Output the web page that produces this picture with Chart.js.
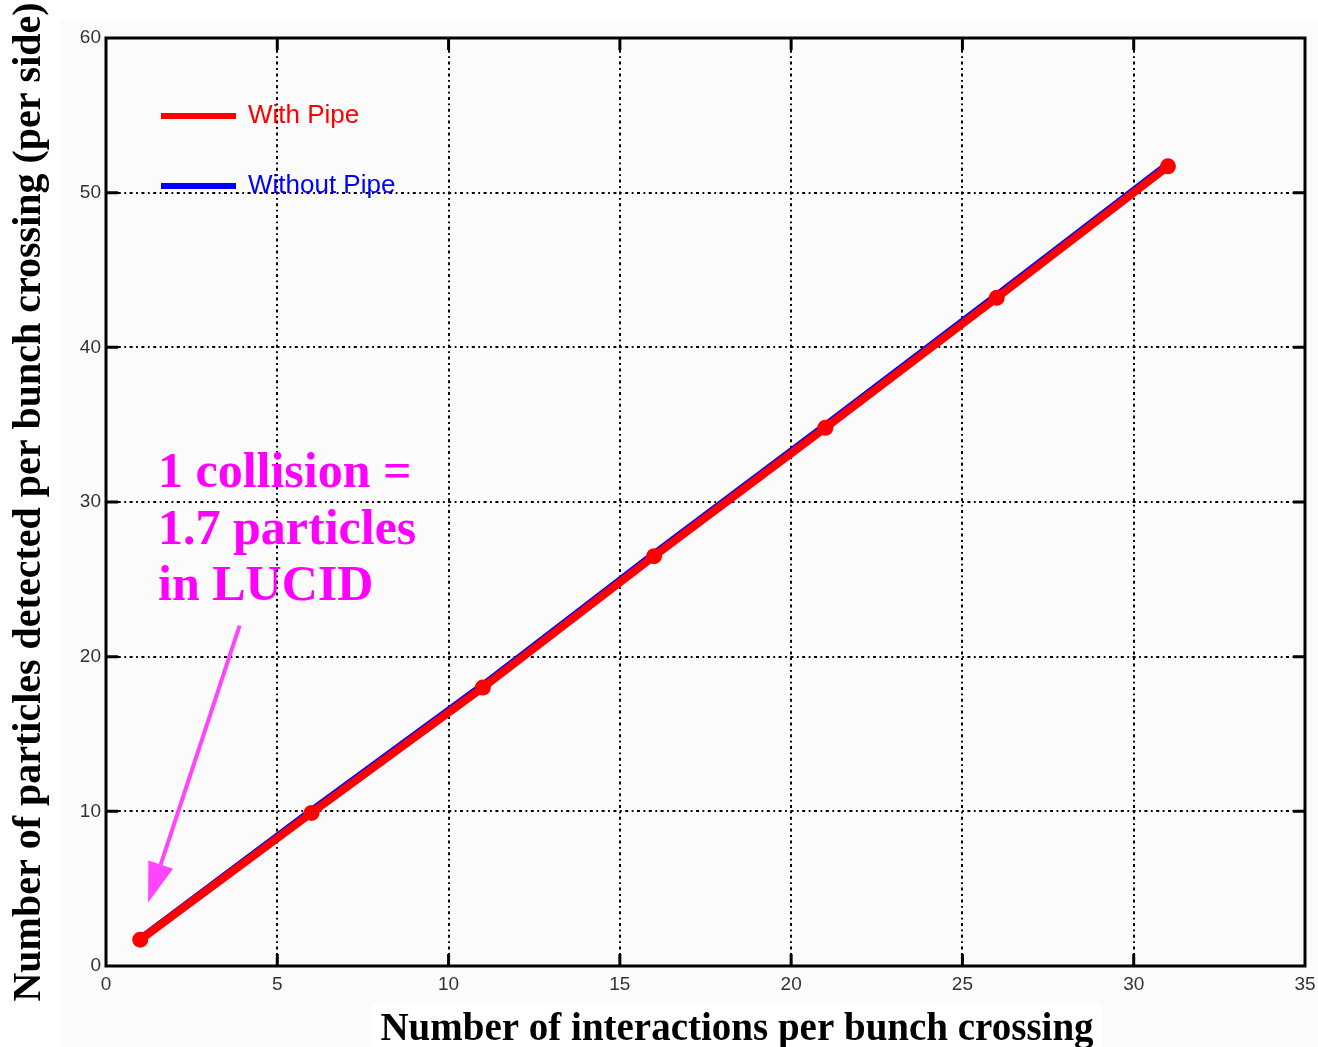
<!DOCTYPE html>
<html><head><meta charset="utf-8">
<script src="https://cdn.jsdelivr.net/npm/chart.js@4.4.0/dist/chart.umd.min.js"></script>
<style>html,body{margin:0;padding:0;background:#fff;}canvas{display:block}</style>
</head><body>
<div style="width:1318px;height:1047px"><canvas id="c" width="1318" height="1047"></canvas></div>
<script>
// ---- data ----
const interactions = [1, 6, 11, 16, 21, 26, 31];
const withPipe = [1.7, 9.9, 18.0, 26.5, 34.8, 43.2, 51.7];
const withoutPipe = [1.8, 10.1, 18.2, 26.7, 35.0, 43.4, 51.9];
const xTicks = [0, 5, 10, 15, 20, 25, 30, 35];
const yTicks = [0, 10, 20, 30, 40, 50, 60];
const seriesLabels = ['With Pipe', 'Without Pipe'];
const seriesColors = ['#ff0000', '#0000ff'];
const xTitle = 'Number of interactions per bunch crossing';
const yTitle = 'Number of particles detected per bunch crossing (per side)';
const noteLines = ['1 collision =', '1.7 particles', 'in LUCID'];
const arrowFrom = {x: 3.9, y: 22.0};
const arrowTo = {x: 1.23, y: 4.1};

const tickFont = {family: "'Liberation Sans', Arial, sans-serif", size: 19};
const gridDash = [3, 3.5, 1.8, 3.5];

const bgPlugin = {
  id: 'bg',
  beforeDraw(chart) {
    const c = chart.ctx;
    c.save();
    c.fillStyle = '#ffffff';
    c.fillRect(0, 0, chart.width, chart.height);
    c.fillStyle = '#fbfbfb';
    c.fillRect(60, 20, chart.width - 60, chart.height - 20);
    c.fillStyle = '#ffffff';
    c.fillRect(372, 1004, 730, 43);
    c.restore();
  }
};

const framePlugin = {
  id: 'frame',
  afterDraw(chart) {
    const c = chart.ctx;
    const a = chart.chartArea;
    const xs = chart.scales.x, ys = chart.scales.y;
    c.save();
    c.strokeStyle = '#000';
    c.lineWidth = 3;
    c.setLineDash([]);
    c.strokeRect(a.left, a.top, a.right - a.left, a.bottom - a.top);
    c.beginPath();
    xTicks.slice(1, -1).forEach(v => {
      const px = xs.getPixelForValue(v);
      c.moveTo(px, a.bottom); c.lineTo(px, a.bottom - 12);
      c.moveTo(px, a.top); c.lineTo(px, a.top + 12);
    });
    yTicks.slice(1, -1).forEach(v => {
      const py = ys.getPixelForValue(v);
      c.moveTo(a.left, py); c.lineTo(a.left + 12, py);
      c.moveTo(a.right, py); c.lineTo(a.right - 12, py);
    });
    c.stroke();

    // legend
    c.font = "26px 'Liberation Sans', Arial, sans-serif";
    c.textBaseline = 'middle';
    c.textAlign = 'left';
    seriesLabels.forEach((lab, i) => {
      const y = a.top + 78 + i * 70;
      c.strokeStyle = seriesColors[i];
      c.lineWidth = 6;
      c.beginPath();
      c.moveTo(a.left + 55, y); c.lineTo(a.left + 130, y);
      c.stroke();
      c.fillStyle = seriesColors[i];
      c.fillText(lab, a.left + 142, y);
    });

    // x title
    c.fillStyle = '#000';
    c.font = "bold 39px 'Liberation Serif', 'Times New Roman', serif";
    c.textAlign = 'center';
    c.textBaseline = 'alphabetic';
    c.fillText(xTitle, 737, 1040);

    // annotation text
    c.fillStyle = '#ff00ff';
    c.font = "bold 50px 'Liberation Serif', 'Times New Roman', serif";
    c.textAlign = 'left';
    noteLines.forEach((t, i) => {
      c.fillText(t, a.left + 52, a.top + 449 + i * 56.5);
    });

    // arrow
    const x1 = xs.getPixelForValue(arrowFrom.x), y1 = ys.getPixelForValue(arrowFrom.y);
    const x2 = xs.getPixelForValue(arrowTo.x), y2 = ys.getPixelForValue(arrowTo.y);
    const ang = Math.atan2(y2 - y1, x2 - x1);
    const hl = 40, hw = 13;
    const bx = x2 - hl * Math.cos(ang), by = y2 - hl * Math.sin(ang);
    c.strokeStyle = '#ff44ff';
    c.fillStyle = '#ff44ff';
    c.lineWidth = 4;
    c.beginPath();
    c.moveTo(x1, y1); c.lineTo(bx, by);
    c.stroke();
    c.beginPath();
    c.moveTo(x2, y2);
    c.lineTo(bx + hw * Math.sin(ang), by - hw * Math.cos(ang));
    c.lineTo(bx - hw * Math.sin(ang), by + hw * Math.cos(ang));
    c.closePath();
    c.fill();
    c.restore();
  }
};

new Chart(document.getElementById('c'), {
  type: 'line',
  data: {
    datasets: [
      {
        label: seriesLabels[0],
        data: interactions.map((x, i) => ({x: x, y: withPipe[i]})),
        borderColor: seriesColors[0], backgroundColor: seriesColors[0],
        borderWidth: 8, pointRadius: 8, pointBorderWidth: 0,
        pointBackgroundColor: seriesColors[0], order: 0, tension: 0
      },
      {
        label: seriesLabels[1],
        data: interactions.map((x, i) => ({x: x, y: withoutPipe[i]})),
        borderColor: seriesColors[1], backgroundColor: seriesColors[1],
        borderWidth: 6, pointRadius: 0, order: 1, tension: 0
      }
    ]
  },
  options: {
    responsive: false, animation: false, devicePixelRatio: 1,
    layout: {padding: {left: 0, right: 13, top: 38, bottom: 0}},
    plugins: {legend: {display: false}, tooltip: {enabled: false}},
    scales: {
      x: {
        type: 'linear', min: 0, max: 35,
        afterBuildTicks: s => { s.ticks = xTicks.map(v => ({value: v})); },
        ticks: {font: tickFont, color: '#333', padding: 7, maxRotation: 0, autoSkip: false},
        grid: {color: '#000', lineWidth: 2, drawTicks: false},
        border: {display: false, dash: gridDash},
        afterFit: s => { s.height = 81; s.paddingRight = 0; s.paddingLeft = 0; }
      },
      y: {
        type: 'linear', min: 0, max: 60,
        afterBuildTicks: s => { s.ticks = yTicks.map(v => ({value: v})); },
        ticks: {font: tickFont, color: '#333', padding: 5, autoSkip: false},
        grid: {color: '#000', lineWidth: 2, drawTicks: false},
        border: {display: false, dash: gridDash},
        title: {display: true, text: yTitle, color: '#000',
          font: {family: "'Liberation Serif', 'Times New Roman', serif", size: 40, weight: 'bold'},
          padding: {top: 6, bottom: 0}},
        afterFit: s => { s.width = 106; s.paddingTop = 0; s.paddingBottom = 0; }
      }
    }
  },
  plugins: [bgPlugin, framePlugin]
});
</script>
</body></html>
